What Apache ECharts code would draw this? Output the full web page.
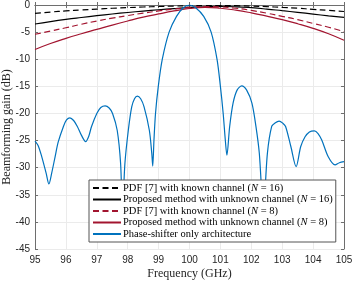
<!DOCTYPE html>
<html><head><meta charset="utf-8">
<script src="https://cdn.jsdelivr.net/npm/echarts@6/dist/echarts.min.js"></script>
<style>html,body{margin:0;padding:0;background:#fff}#c{width:357px;height:283px}</style>
</head><body><div id="c"></div>
<script>
// Smooth curves sampled every 0.5 GHz
const freqs = [95,95.5,96,96.5,97,97.5,98,98.5,99,99.5,100,100.5,101,101.5,102,102.5,103,103.5,104,104.5,105];
const pdfN16 = [-1.55,-1.3,-1.1,-0.92,-0.75,-0.6,-0.48,-0.37,-0.28,-0.2,-0.14,-0.1,-0.1,-0.13,-0.2,-0.3,-0.45,-0.6,-0.8,-1.0,-1.2];
const propN16 = [-3.5,-3.05,-2.65,-2.3,-1.97,-1.66,-1.38,-1.12,-0.88,-0.66,-0.47,-0.33,-0.27,-0.33,-0.5,-0.75,-1.05,-1.35,-1.68,-2.0,-2.3];
const pdfN8 = [-5.4,-4.8,-4.2,-3.55,-2.95,-2.42,-1.95,-1.5,-1.1,-0.75,-0.45,-0.3,-0.35,-0.6,-1.0,-1.5,-2.1,-2.7,-3.4,-4.1,-4.9];
const propN8 = [-8.2,-7.1,-6.15,-5.3,-4.5,-3.7,-2.95,-2.25,-1.65,-1.1,-0.65,-0.45,-0.6,-0.95,-1.45,-2.05,-2.7,-3.45,-4.3,-5.3,-6.5];
// Phase-shifter only architecture (read point by point)
const psFreq = [95.0,95.1,95.22,95.36,95.45,95.54,95.65,95.75,95.92,96.02,96.13,96.25,96.37,96.5,96.64,96.74,96.83,97.0,97.13,97.27,97.4,97.51,97.66,97.77,97.83,97.91,98.02,98.13,98.22,98.31,98.42,98.53,98.7,98.78,98.81,98.85,98.9,98.99,99.12,99.34,99.58,99.8,100.0,100.2,100.46,100.7,100.89,101.0,101.09,101.16,101.21,101.3,101.41,101.54,101.69,101.85,102.02,102.15,102.26,102.39,102.52,102.66,102.78,102.9,103.02,103.11,103.28,103.45,103.6,103.74,103.88,104.04,104.16,104.28,104.49,104.71,104.85,105.0];
const psGain = [-25.1,-25.9,-28.0,-31.0,-33.0,-31.0,-28.0,-25.3,-22.4,-21.2,-20.8,-21.3,-22.4,-24.0,-25.2,-24.2,-22.4,-20.0,-18.9,-18.6,-19.0,-20.0,-23.1,-29.2,-38,-29.2,-23.1,-18.8,-17.3,-16.8,-17.3,-18.8,-23.1,-27.4,-29.7,-24.9,-20.0,-15.0,-10.0,-5.0,-2.1,-0.5,0,-0.5,-2.1,-5.0,-10.0,-15.0,-20.0,-25.0,-27.7,-22.4,-18.1,-15.7,-14.9,-15.7,-18.1,-22.4,-27.4,-38,-27.4,-22.4,-21.7,-21.4,-21.8,-22.4,-26.1,-29.8,-26.1,-24.3,-23.4,-23.2,-23.7,-24.9,-28.0,-29.5,-29.1,-28.9];
const seriesNames = [
  'PDF [7] with known channel (N = 16)',
  'Proposed method with unknown channel (N = 16)',
  'PDF [7] with known channel (N = 8)',
  'Proposed method with unknown channel (N = 8)',
  'Phase-shifter only architecture'
];
const xTicks = [95,96,97,98,99,100,101,102,103,104,105];

const pair = (xs, ys) => xs.map((x, i) => [x, ys[i]]);
const BLUE = '#0072BD', RED = '#A2142F', BLACK = '#000000';
const serif = '"Liberation Serif", "DejaVu Serif", serif';
const sans = '"Liberation Sans", Arial, sans-serif';
const axisCommon = {
  axisLine: { show: true, lineStyle: { color: '#6e6e6e', width: 1 } },
  axisTick: { show: true, inside: true, length: 3, lineStyle: { color: '#6e6e6e' } },
  splitLine: { show: false }
};
function mk(name, data, color, dashed, smooth) {
  return {
    name, type: 'line', data, symbol: 'none', smooth: smooth,
    lineStyle: { color, width: 1.2, type: dashed ? [6, 3.5] : 'solid' },
    itemStyle: { color }, z: 3, clip: true
  };
}
const chart = echarts.init(document.getElementById('c'), null, { renderer: 'canvas' });
chart.setOption({
  animation: false,
  backgroundColor: '#fff',
  grid: { left: 35, right: 13, top: 5, bottom: 34, containLabel: false, outerBoundsMode: 'none' },
  xAxis: [
    Object.assign({}, axisCommon, {
      type: 'value', min: 95, max: 105, interval: 1, position: 'bottom',
      name: 'Frequency (GHz)', nameLocation: 'middle', nameGap: 19, nameMoveOverlap: false,
      nameTextStyle: { fontFamily: serif, fontSize: 12, color: '#262626' },
      axisLabel: { fontFamily: sans, fontSize: 10, color: '#262626', margin: 6,
        formatter: v => xTicks.includes(v) ? String(v) : '' },
      splitLine: { show: true, lineStyle: { color: '#ebebeb', width: 1 } }
    }),
    Object.assign({}, axisCommon, {
      type: 'value', min: 95, max: 105, interval: 1, position: 'top',
      axisLabel: { show: false }
    })
  ],
  yAxis: [
    Object.assign({}, axisCommon, {
      type: 'value', min: -45, max: 0, interval: 5, position: 'left',
      name: 'Beamforming gain (dB)', nameLocation: 'middle', nameGap: 22, nameMoveOverlap: false,
      nameTextStyle: { fontFamily: serif, fontSize: 12, color: '#262626' },
      axisLabel: { fontFamily: sans, fontSize: 10, color: '#262626', margin: 5 },
      splitLine: { show: true, lineStyle: { color: '#ebebeb', width: 1 } }
    }),
    Object.assign({}, axisCommon, {
      type: 'value', min: -45, max: 0, interval: 5, position: 'right',
      axisLabel: { show: false }
    })
  ],
  legend: {
    orient: 'vertical', left: 89, top: 180, z: 10,
    backgroundColor: '#fff', borderColor: '#555', borderWidth: 1,
    padding: [2.5, 3, 2.5, 3], itemGap: 0.5, itemWidth: 28, itemHeight: 11,
    itemStyle: { opacity: 0 },
    textStyle: { fontFamily: serif, fontSize: 10.5, lineHeight: 11, color: '#000', padding: [0, 0, 0, -3],
      rich: { i: { fontFamily: serif, fontSize: 10.5, lineHeight: 11, fontStyle: 'italic', color: '#000' } } },
    formatter: name => name.replace('(N', '({i|N}'),
    data: seriesNames
  },
  series: [
    mk(seriesNames[0], pair(freqs, pdfN16), BLACK, true, true),
    mk(seriesNames[1], pair(freqs, propN16), BLACK, false, true),
    mk(seriesNames[2], pair(freqs, pdfN8), RED, true, true),
    mk(seriesNames[3], pair(freqs, propN8), RED, false, true),
    mk(seriesNames[4], pair(psFreq, psGain), BLUE, false, 0.3)
  ]
});
</script></body></html>
